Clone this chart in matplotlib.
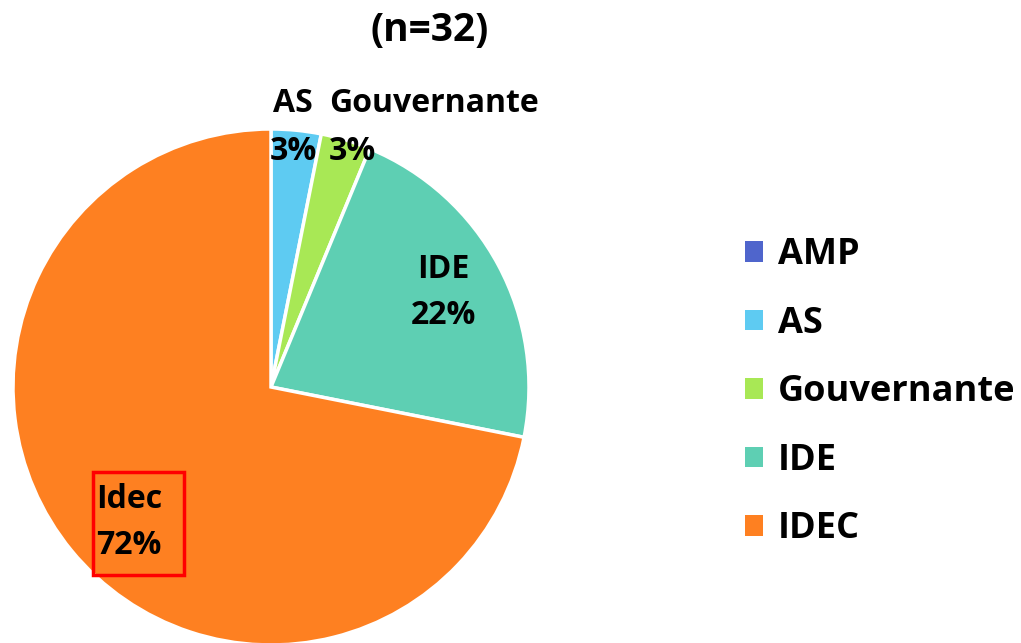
import matplotlib.pyplot as plt
from matplotlib.patches import Rectangle, Patch

plt.rcParams['font.family'] = ['Open Sans', 'DejaVu Sans']

categories = ['AMP', 'AS', 'Gouvernante', 'IDE', 'IDEC']
counts = [0, 1, 1, 7, 23]
colors = ['#4f65cc', '#5ecbf2', '#a8e855', '#5ecfb3', '#fe8021']
n_total = 32

fig = plt.figure(figsize=(10.21, 6.43), dpi=100)
ax = fig.add_axes([0, 0, 1, 1])

wedges, _ = ax.pie(counts, colors=colors, startangle=90, counterclock=False,
                   center=(271, 256), radius=258,
                   wedgeprops=dict(edgecolor='white', linewidth=2.5))
ax.set_xlim(0, 1021)
ax.set_ylim(0, 643)
ax.set_aspect('equal')
ax.axis('off')

pct = [round(100 * c / n_total) for c in counts]
fs = 23
ax.text(293, 540, 'AS', ha='center', va='center', fontsize=fs, fontweight='bold')
ax.text(293, 491, f'{pct[1]}%', ha='center', va='center', fontsize=fs, fontweight='bold')
ax.text(329, 540, 'Gouvernante', ha='left', va='center', fontsize=fs, fontweight='bold')
ax.text(329, 491, f'{pct[2]}%', ha='left', va='center', fontsize=fs, fontweight='bold')
ax.text(443, 373, 'IDE', ha='center', va='center', fontsize=fs, fontweight='bold')
ax.text(443, 328, f'{pct[3]}%', ha='center', va='center', fontsize=fs, fontweight='bold')
ax.text(96, 143, 'Idec', ha='left', va='center', fontsize=fs, fontweight='bold')
ax.text(96, 98, f'{pct[4]}%', ha='left', va='center', fontsize=fs, fontweight='bold')
ax.add_patch(Rectangle((93, 68), 91, 103, fill=False, edgecolor='#ff0000', linewidth=2.5))

ax.text(430, 612, f'(n={n_total})', ha='center', va='center', fontsize=28, fontweight='bold')

handles = [Patch(facecolor=c, edgecolor='none') for c in colors]
fig.legend(handles, categories, loc='center left', bbox_to_anchor=(0.730, 0.390),
           frameon=False, handlelength=0.5, handleheight=0.5,
           handletextpad=0.4, labelspacing=0.9, borderpad=0, borderaxespad=0,
           prop={'weight': 'bold', 'size': 26})

fig.savefig('out.png', dpi=100)
